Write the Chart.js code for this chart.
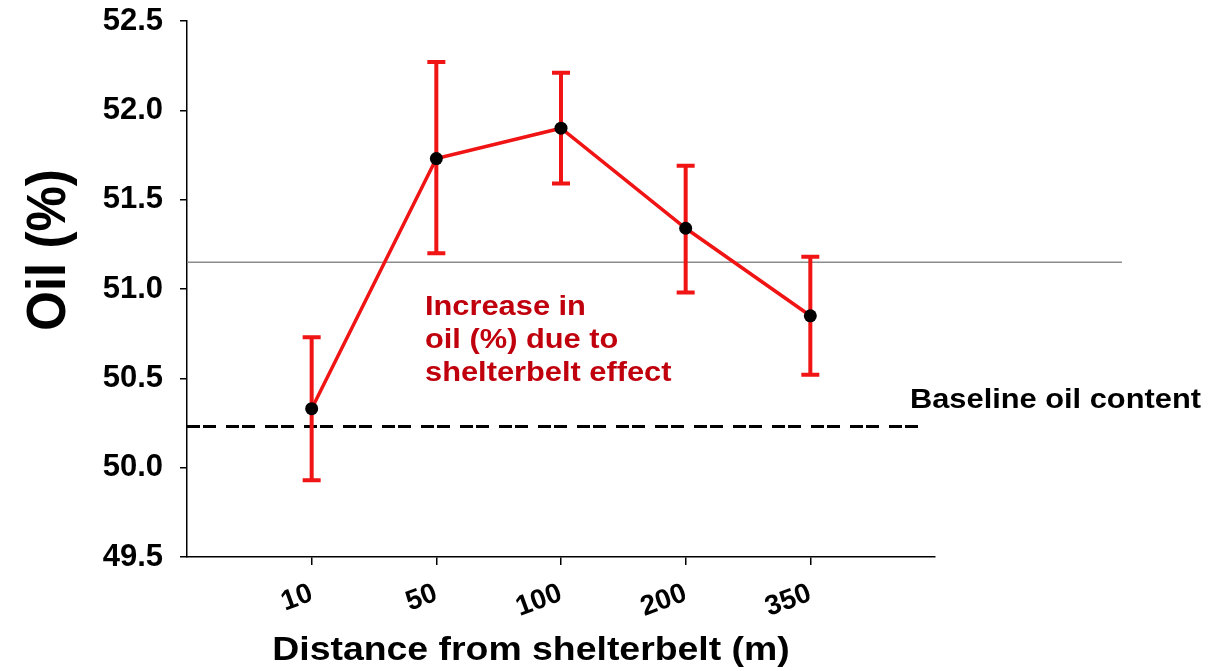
<!DOCTYPE html>
<html>
<head>
<meta charset="utf-8">
<title>Oil content vs distance from shelterbelt</title>
<script src="https://cdn.jsdelivr.net/npm/chart.js@4.4.1/dist/chart.umd.min.js"></script>
<style>
  body { margin: 0; background: #fff; }
  canvas { display: block; }
</style>
</head>
<body>
<canvas id="oilChart" width="1223" height="671"></canvas>
<script>
// Distances (m) and mean oil content with error bar ends
const distances = ['10', '50', '100', '200', '350'];
const oilMean = [50.33, 51.73, 51.90, 51.34, 50.85];
const oilUpper = [50.73, 52.27, 52.21, 51.69, 51.18];
const oilLower = [49.93, 51.20, 51.59, 50.98, 50.52];

// Reference lines
const baselineOil = 50.23;
const shelterLine = 51.15;

// y axis ticks
const yTicks = [49.5, 50.0, 50.5, 51.0, 51.5, 52.0, 52.5];

const FONT = '"Liberation Sans", Arial, sans-serif';
const RED = '#f01414';
const DARK_RED = '#c0000c';

// helper: horizontally stretched text like the original figure
function stretchedText(ctx, text, x, y, size, color, align) {
    ctx.save();
    ctx.font = 'bold ' + size + 'px ' + FONT;
    ctx.fillStyle = color;
    ctx.textAlign = align || 'left';
    ctx.textBaseline = 'alphabetic';
    ctx.translate(x, y);
    ctx.scale(1.1, 1);
    ctx.fillText(text, 0, 0);
    ctx.restore();
}

const extrasPlugin = {
    id: 'extras',
    beforeDatasetsDraw(chart) {
        const ctx = chart.ctx;
        const xs = chart.scales.x;
        const ys = chart.scales.y;

        // thin grey line
        ctx.save();
        ctx.strokeStyle = '#8c8c8c';
        ctx.lineWidth = 1.5;
        ctx.beginPath();
        ctx.moveTo(xs.getPixelForValue(0), ys.getPixelForValue(shelterLine));
        ctx.lineTo(xs.getPixelForValue(7.5), ys.getPixelForValue(shelterLine));
        ctx.stroke();

        // dashed baseline
        ctx.strokeStyle = '#000';
        ctx.lineWidth = 3;
        ctx.setLineDash([13, 3, 13, 10]);
        ctx.beginPath();
        ctx.moveTo(xs.getPixelForValue(0), ys.getPixelForValue(baselineOil));
        ctx.lineTo(xs.getPixelForValue(5.88), ys.getPixelForValue(baselineOil));
        ctx.stroke();
        ctx.setLineDash([]);

        // error bars
        ctx.strokeStyle = RED;
        ctx.lineWidth = 4;
        for (let i = 0; i < oilMean.length; i++) {
            const px = xs.getPixelForValue(i + 1);
            const top = ys.getPixelForValue(oilUpper[i]);
            const bot = ys.getPixelForValue(oilLower[i]);
            ctx.beginPath();
            ctx.moveTo(px, top);
            ctx.lineTo(px, bot);
            ctx.moveTo(px - 9, top);
            ctx.lineTo(px + 9, top);
            ctx.moveTo(px - 9, bot);
            ctx.lineTo(px + 9, bot);
            ctx.stroke();
        }
        ctx.restore();
    },
    afterDraw(chart) {
        const ctx = chart.ctx;

        // annotation
        stretchedText(ctx, 'Increase in', 425, 315, 28, DARK_RED);
        stretchedText(ctx, 'oil (%) due to', 425, 348, 28, DARK_RED);
        stretchedText(ctx, 'shelterbelt effect', 425, 381, 28, DARK_RED);

        // baseline label
        stretchedText(ctx, 'Baseline oil content', 910, 408, 28, '#000');

        // x axis title
        stretchedText(ctx, 'Distance from shelterbelt (m)', 531, 660, 34, '#000', 'center');

        // y axis title
        ctx.save();
        ctx.font = 'bold 51px ' + FONT;
        ctx.fillStyle = '#000';
        ctx.textAlign = 'center';
        ctx.textBaseline = 'middle';
        ctx.translate(50, 250);
        ctx.scale(1.1, 1);
        ctx.rotate(-Math.PI / 2);
        ctx.fillText('Oil (%)', 0, 0);
        ctx.restore();
    }
};

new Chart(document.getElementById('oilChart'), {
    type: 'line',
    data: {
        datasets: [{
            label: 'Oil (%)',
            data: oilMean.map((v, i) => ({ x: i + 1, y: v })),
            borderColor: RED,
            borderWidth: 3.5,
            tension: 0,
            pointRadius: 6.5,
            pointBackgroundColor: '#000',
            pointBorderColor: '#000',
            pointBorderWidth: 0
        }]
    },
    options: {
        responsive: false,
        animation: false,
        layout: { padding: { top: 21, right: 288, left: 0, bottom: 0 } },
        plugins: {
            legend: { display: false },
            tooltip: { enabled: false }
        },
        scales: {
            x: {
                type: 'linear',
                min: 0,
                max: 6,
                afterFit: (scale) => {
                    scale.height = 114;
                    scale.paddingLeft = 0;
                    scale.paddingRight = 0;
                },
                afterBuildTicks: (scale) => {
                    scale.ticks = [0, 1, 2, 3, 4, 5, 6].map(v => ({ value: v }));
                },
                border: { display: true, color: '#000', width: 1.5 },
                grid: {
                    drawOnChartArea: false,
                    drawTicks: true,
                    tickLength: 8,
                    lineWidth: 1.5,
                    color: (c) => (c.tick && (c.tick.value === 0 || c.tick.value === 6)) ? 'rgba(0,0,0,0)' : '#000'
                },
                ticks: {
                    autoSkip: false,
                    minRotation: 20,
                    maxRotation: 20,
                    padding: 12,
                    color: '#000',
                    font: { family: FONT, size: 28, weight: 'bold' },
                    callback: (v) => distances[v - 1] || ''
                }
            },
            y: {
                min: 49.5,
                max: 52.5,
                afterFit: (scale) => {
                    scale.width = 187;
                    scale.paddingTop = 0;
                    scale.paddingBottom = 0;
                },
                afterBuildTicks: (scale) => {
                    scale.ticks = yTicks.map(v => ({ value: v }));
                },
                border: { display: true, color: '#000', width: 1.5 },
                grid: {
                    drawOnChartArea: false,
                    drawTicks: true,
                    tickLength: 7,
                    lineWidth: 1.5,
                    color: '#000'
                },
                ticks: {
                    padding: 17,
                    color: '#000',
                    font: { family: FONT, size: 31, weight: 'bold' },
                    callback: (v) => v.toFixed(1)
                }
            }
        }
    },
    plugins: [extrasPlugin]
});
</script>
</body>
</html>
